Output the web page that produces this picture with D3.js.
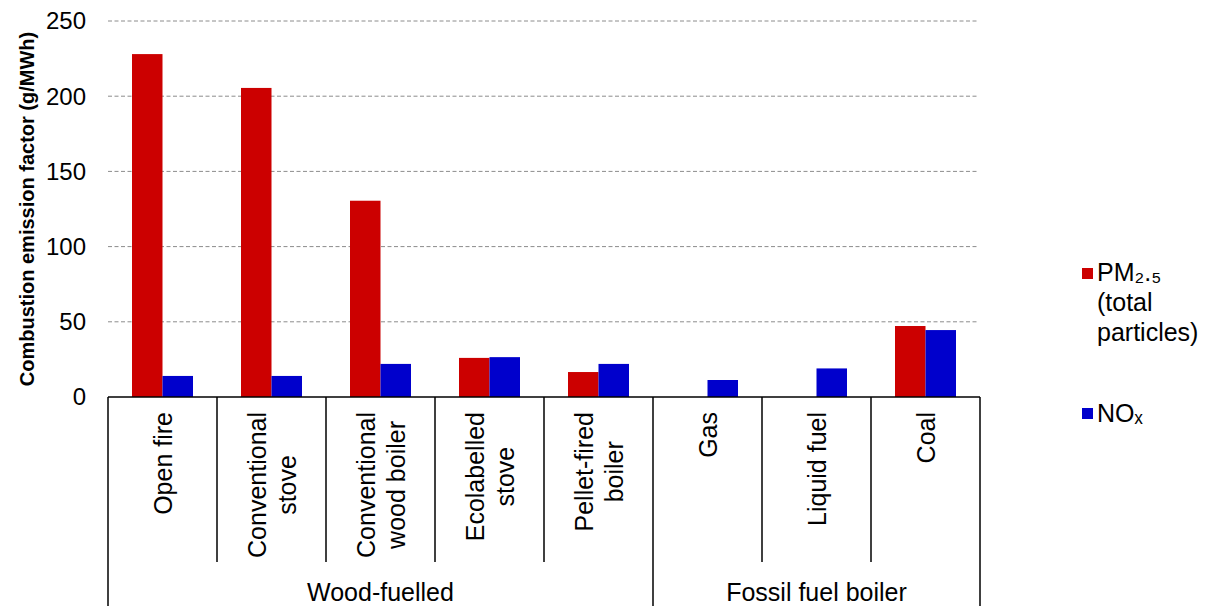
<!DOCTYPE html>
<html><head><meta charset="utf-8">
<script src="https://cdn.jsdelivr.net/npm/d3@7"></script>
<style>body{margin:0;background:#fff}svg{display:block}text{font-family:"Liberation Sans",Arial,sans-serif}</style>
</head><body>
<svg id="c" width="1211" height="606"></svg>
<script>
const categories = ["Open fire","Conventional stove","Conventional wood boiler","Ecolabelled stove","Pellet-fired boiler","Gas","Liquid fuel","Coal"];
const categoryLines = [["Open fire"],["Conventional","stove"],["Conventional","wood boiler"],["Ecolabelled","stove"],["Pellet-fired","boiler"],["Gas"],["Liquid fuel"],["Coal"]];
const groups = [{name:"Wood-fuelled", from:0, to:4},{name:"Fossil fuel boiler", from:5, to:7}];
const seriesNames = ["PM₂.₅ (total particles)","NOₓ"];
const pm25 = [228, 205.5, 130.5, 26, 16.6, 0, 0, 47.2];
const nox = [14, 14, 22, 26.5, 22, 11.3, 19, 44.5];
const yTicks = [0,50,100,150,200,250];
const colors = ["#CC0000","#0000CC"];

const svg = d3.select("#c");
const L=108, R=980, T=21, B=397;
const y = d3.scaleLinear().domain([0,250]).range([B,T]);
const x0 = d3.scaleBand().domain(categories).range([L,R]).paddingInner(0).paddingOuter(0);
const x1 = d3.scaleBand().domain([0,1]).range([0,x0.bandwidth()]).paddingInner(0).paddingOuter(0.787);

// grid
svg.append("g").selectAll("line").data(yTicks.filter(d=>d>0)).join("line")
  .attr("x1",L).attr("x2",R-3).attr("y1",d=>y(d)).attr("y2",d=>y(d))
  .attr("stroke","#8c8c8c").attr("stroke-width",1).attr("stroke-dasharray","4,2.5");
// tick labels
svg.append("g").selectAll("text").data(yTicks).join("text")
  .attr("x",86).attr("y",d=>y(d)).attr("dy","0.35em").attr("text-anchor","end")
  .attr("font-size",24).attr("fill","#000").text(d=>d);

// bars
const series = [pm25, nox];
series.forEach((vals,si)=>{
  svg.append("g").selectAll("rect").data(vals.map((v,i)=>({v,c:categories[i]}))).join("rect")
    .attr("x",d=>x0(d.c)+x1(si)).attr("width",x1.bandwidth())
    .attr("y",d=>y(d.v)).attr("height",d=>B-y(d.v))
    .attr("fill",colors[si]);
});

// axis lines
const ax = svg.append("g").attr("stroke","#000").attr("stroke-width",1.5);
ax.append("line").attr("x1",L).attr("x2",R).attr("y1",B).attr("y2",B);
const groupEdges = new Set();
groups.forEach(g=>{groupEdges.add(g.from);groupEdges.add(g.to+1);});
for(let i=0;i<=categories.length;i++){
  const xx = i<categories.length ? x0(categories[i]) : x0(categories[i-1])+x0.bandwidth();
  ax.append("line").attr("x1",xx).attr("x2",xx).attr("y1",B).attr("y2",groupEdges.has(i)?606:562);
}
// category labels
const lab = svg.append("g");
const fs = 25;
categories.forEach((c,i)=>{
  const lines = categoryLines[i];
  const cx = x0(c)+x0.bandwidth()/2;
  const tmp = lab.append("text").attr("font-size",fs).text(lines.reduce((a,b)=>a.length>=b.length?a:b));
  const w = tmp.node().getComputedTextLength(); tmp.remove();
  const cy = 412 + w/2;
  const ls = 30;
  lines.forEach((t,j)=>{
    const off = (j-(lines.length-1)/2)*ls;
    lab.append("text").attr("font-size",fs).attr("text-anchor","middle").attr("dominant-baseline","central")
      .attr("transform",`translate(${cx+off},${cy}) rotate(-90)`).text(t);
  });
});
// group labels
groups.forEach(g=>{
  const a = x0(categories[g.from]), b = x0(categories[g.to])+x0.bandwidth();
  svg.append("text").attr("x",(a+b)/2).attr("y",601).attr("text-anchor","middle").attr("font-size",fs).text(g.name);
});
// y title
svg.append("text").attr("transform",`translate(34,${(T+B)/2}) rotate(-90)`).attr("text-anchor","middle")
  .attr("font-size",20).attr("font-weight","bold").text("Combustion emission factor (g/MWh)");

// legend
const lg = svg.append("g");
lg.append("rect").attr("x",1082).attr("y",268).attr("width",11).attr("height",11).attr("fill",colors[0]);
const t1 = lg.append("text").attr("x",1097).attr("font-size",25);
[["PM₂.₅",281],["(total",311],["particles)",341]].forEach(([s,yy])=>t1.append("tspan").attr("x",1097).attr("y",yy).text(s));
lg.append("rect").attr("x",1082).attr("y",408).attr("width",11).attr("height",11).attr("fill",colors[1]);
lg.append("text").attr("x",1097).attr("y",422).attr("font-size",25).text("NOₓ");
</script>
</body></html>
